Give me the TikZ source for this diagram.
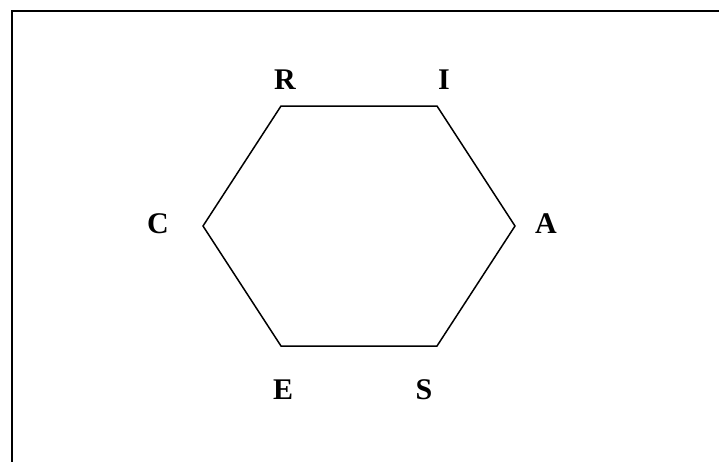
\documentclass[tikz,border=0pt]{standalone}
\usepackage{fontspec}
\setmainfont{Liberation Serif}
\begin{document}
\begin{tikzpicture}[x=1pt,y=-1pt,
  lbl/.style={font=\fontsize{30}{30}\selectfont\bfseries, inner sep=0pt, anchor=center},
  edge/.style={line width=1.5pt, line join=miter}]
\useasboundingbox (0,0) rectangle (719,461);
\coordinate (bl) at (11.5,470);
\coordinate (tl) at (11.5,10.5);
\coordinate (tr) at (730,10.5);
\draw[line width=2pt] (bl) -- (tl) -- (tr);
\coordinate (vR) at (281,106);
\coordinate (vI) at (437,106);
\coordinate (vA) at (515,226);
\coordinate (vS) at (437,346);
\coordinate (vE) at (281,346);
\coordinate (vC) at (203,226);
\draw[edge] (vR) -- (vI) -- (vA) -- (vS) -- (vE) -- (vC) -- cycle;
\node[lbl] (R) at (285,80) {R};
\node[lbl] (I) at (444,80) {I};
\node[lbl] (C) at (158,224) {C};
\node[lbl] (A) at (546,224) {A};
\node[lbl] (E) at (283,390) {E};
\node[lbl] (S) at (424,390) {S};
\end{tikzpicture}
\end{document}
